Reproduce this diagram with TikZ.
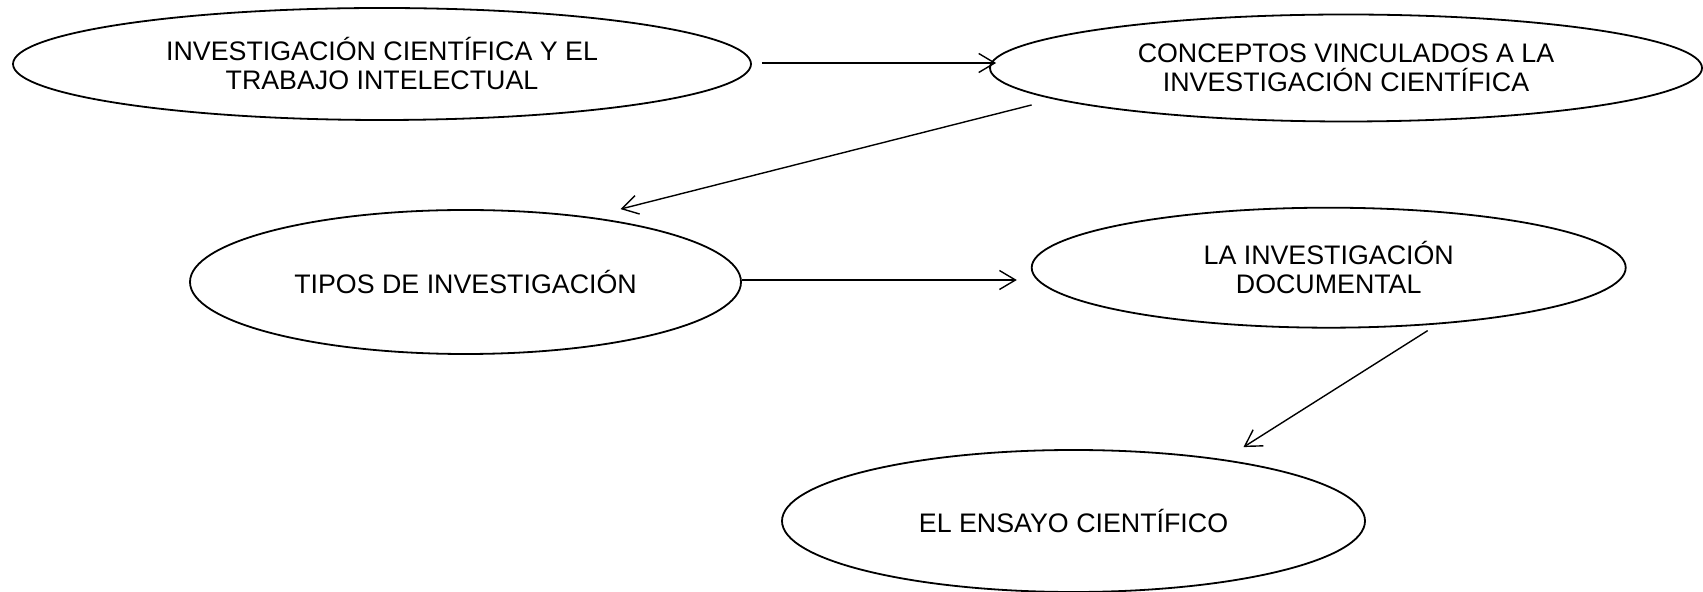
\documentclass[tikz,border=0pt]{standalone}
\usepackage{fontspec}
\setmainfont{Liberation Sans}
\usetikzlibrary{arrows.meta,shapes.geometric}

\begin{document}
\begin{tikzpicture}[x=0.5pt,y=-0.5pt,
  tema/.style={draw=black, ellipse, line width=0.9pt, inner sep=0pt, align=center,
    font=\fontsize{13.4}{14.5}\selectfont},
  link/.style={draw=black, line width=0.7pt, -{Straight Barb[length=8pt,width=9.5pt]}}]
\useasboundingbox (0,0) rectangle (1703,592);
\node[tema, minimum width=369pt, minimum height=56pt] (invest) at (382,64) {INVESTIGACIÓN CIENTÍFICA Y EL\\TRABAJO INTELECTUAL};
\node[tema, minimum width=356pt, minimum height=53.5pt] (conceptos) at (1346,68) {CONCEPTOS VINCULADOS A LA\\INVESTIGACIÓN CIENTÍFICA};
\node[tema, minimum width=275.5pt, minimum height=72pt] (tipos) at (465.5,282) {TIPOS DE INVESTIGACIÓN};
\node[tema, minimum width=297pt, minimum height=60pt] (documental) at (1328.7,267.7) {LA INVESTIGACIÓN\\DOCUMENTAL};
\node[tema, minimum width=291.5pt, minimum height=71pt] (ensayo) at (1073.5,521) {EL ENSAYO CIENTÍFICO};
% free ends of the connectors
\coordinate (investout) at ([shift={(10,-1)}]invest.east);
\coordinate (tiposout) at ([shift={(0,-2)}]tipos.east);
\draw[link, shorten >=-3.5pt] (investout) -- (conceptos.west |- investout);
\draw[link] ([shift={(-62,-1.5)}]conceptos.south west) -- ([shift={(155,0)}]tipos.north);
\draw[link, shorten >=7pt] (tiposout) -- (documental.west |- tiposout);
\draw[link] ([shift={(99,2)}]documental.south) -- ([shift={(170,-2)}]ensayo.north);
\end{tikzpicture}
\end{document}
